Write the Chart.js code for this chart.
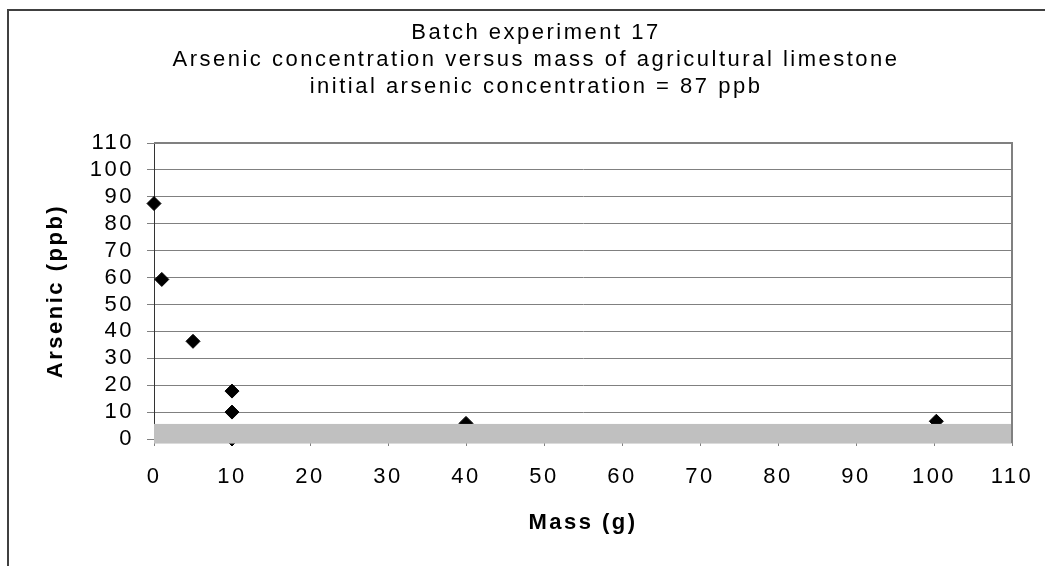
<!DOCTYPE html>
<html>
<head>
<meta charset="utf-8">
<script src="https://cdn.jsdelivr.net/npm/chart.js@4"></script>
<style>
  html, body { margin: 0; padding: 0; background: #fff; }
  #wrap { width: 1045px; height: 566px; position: relative; }
</style>
</head>
<body>
<div id="wrap"><canvas id="chart"></canvas></div>
<script>
// values
const massGrams = [0, 1, 5, 10, 10, 10, 40, 100.3];
const arsenicPpb = [87.5, 59.3, 36.3, 17.8, 10, 0, 5.8, 6.6];
const titleLines = [
    'Batch experiment 17',
    'Arsenic concentration versus mass of agricultural limestone',
    'initial arsenic concentration = 87 ppb'
];
const xTicks = [0, 10, 20, 30, 40, 50, 60, 70, 80, 90, 100, 110];
const yTicks = [0, 10, 20, 30, 40, 50, 60, 70, 80, 90, 100, 110];
// grey band near the bottom of the plot (ppb range, full mass range)
const bandPpb = [-1.7, 5.6];
const bandMass = [0, 110];

const FONT = 'Arial, "Liberation Sans", sans-serif';
const SPACING = '2.5px';

// the original text is a bit spaced out, canvas resets this on resize so set it each time
const spacingPlugin = {
    id: 'spacing',
    beforeUpdate(chart) { chart.ctx.letterSpacing = SPACING; },
    beforeRender(chart) { chart.ctx.letterSpacing = SPACING; }
};

// chart title: centred on the whole chart object (which runs past the right edge)
const titlePlugin = {
    id: 'bigTitle',
    afterDraw(chart) {
        const ctx = chart.ctx;
        ctx.save();
        ctx.letterSpacing = SPACING;
        ctx.font = '22px ' + FONT;
        ctx.fillStyle = '#000';
        ctx.textAlign = 'center';
        ctx.textBaseline = 'middle';
        titleLines.forEach((line, i) => {
            ctx.fillText(line, 536, 33 + i * 27);
        });
        ctx.restore();
    }
};

// outer frame and plot frame
const framePlugin = {
    id: 'frame',
    beforeDraw(chart) {
        const ctx = chart.ctx;
        ctx.save();
        ctx.strokeStyle = '#404040';
        ctx.lineWidth = 2;
        ctx.beginPath();
        ctx.moveTo(8, chart.height);
        ctx.lineTo(8, 10);
        ctx.lineTo(chart.width, 10);
        ctx.stroke();
        ctx.restore();
    },
    afterDraw(chart) {
        const {ctx, chartArea} = chart;
        ctx.save();
        ctx.strokeStyle = '#808080';
        ctx.lineWidth = 2;
        ctx.beginPath();
        ctx.moveTo(chartArea.left, chartArea.top);
        ctx.lineTo(chartArea.right, chartArea.top);
        ctx.lineTo(chartArea.right, chartArea.bottom + 4);
        ctx.stroke();
        ctx.restore();
    }
};

// the grey band, drawn on top of the markers like in the original
const bandPlugin = {
    id: 'band',
    afterDatasetsDraw(chart) {
        const {ctx, scales} = chart;
        const x0 = scales.x.getPixelForValue(bandMass[0]);
        const x1 = scales.x.getPixelForValue(bandMass[1]);
        const y0 = scales.y.getPixelForValue(bandPpb[1]);
        const y1 = scales.y.getPixelForValue(bandPpb[0]);
        ctx.save();
        ctx.fillStyle = '#c0c0c0';
        ctx.fillRect(x0, y0, x1 - x0, y1 - y0);
        ctx.restore();
    }
};

const ctx = document.getElementById('chart').getContext('2d');
new Chart(ctx, {
    type: 'scatter',
    data: {
        datasets: [{
            label: 'Arsenic',
            data: massGrams.map((m, i) => ({x: m, y: arsenicPpb[i]})),
            pointStyle: 'rectRot',
            pointRadius: 7,
            pointHoverRadius: 7,
            backgroundColor: '#000',
            borderColor: '#000',
            borderWidth: 1,
            clip: false
        }]
    },
    options: {
        responsive: true,
        maintainAspectRatio: false,
        animation: false,
        layout: { padding: { left: 0, right: 33, top: 143, bottom: 0 } },
        plugins: {
            legend: { display: false },
            tooltip: { enabled: false },
            title: { display: false }
        },
        scales: {
            x: {
                type: 'linear',
                min: 0,
                max: 110,
                afterBuildTicks: s => { s.ticks = xTicks.map(v => ({value: v})); },
                afterFit: s => { s.height = 127; s.paddingLeft = 0; s.paddingRight = 0; },
                grid: { drawOnChartArea: false, color: '#808080', tickLength: 7 },
                border: { color: '#333', width: 1 },
                ticks: { color: '#000', font: { family: FONT, size: 22 }, padding: 18, maxRotation: 0, autoSkip: false },
                title: {
                    display: true,
                    text: 'Mass (g)',
                    color: '#000',
                    font: { family: FONT, size: 22, weight: 'bold', lineHeight: 1.2 },
                    padding: { top: 0, bottom: 30 }
                }
            },
            y: {
                min: 0,
                max: 110,
                afterBuildTicks: s => { s.ticks = yTicks.map(v => ({value: v})); },
                afterFit: s => { s.width = 154; s.paddingTop = 0; s.paddingBottom = 0; },
                grid: { color: '#808080', tickLength: 7 },
                border: { color: '#333', width: 1 },
                ticks: { color: '#000', font: { family: FONT, size: 22 }, padding: 13, autoSkip: false },
                title: {
                    display: true,
                    text: 'Arsenic (ppb)',
                    color: '#000',
                    font: { family: FONT, size: 22, weight: 'bold', lineHeight: 1.2 },
                    padding: { top: 43, bottom: 0 }
                }
            }
        }
    },
    plugins: [spacingPlugin, framePlugin, bandPlugin, titlePlugin]
});
</script>
</body>
</html>
